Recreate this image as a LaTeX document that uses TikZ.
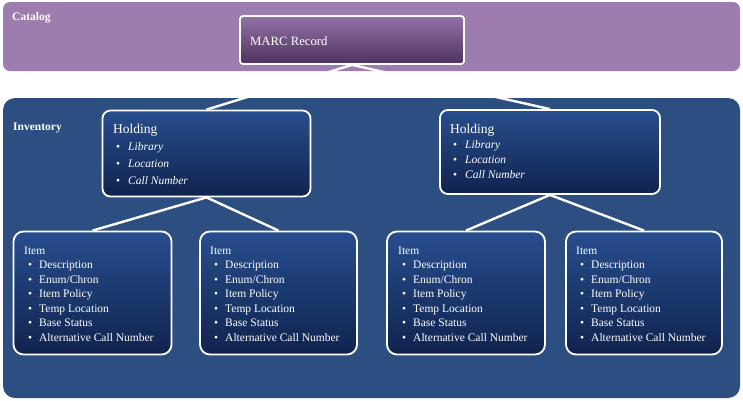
\documentclass[tikz,border=0pt]{standalone}
\usepackage{fontspec}
\setmainfont{Liberation Serif}
\definecolor{catbg}{RGB}{157,124,176}
\definecolor{invbg}{RGB}{45,78,128}
\definecolor{marctop}{RGB}{146,114,166}
\definecolor{marcbot}{RGB}{78,50,94}
\definecolor{boxtop}{RGB}{40,78,142}
\definecolor{boxbot}{RGB}{16,35,78}
\pgfdeclarelayer{bg}
\pgfdeclarelayer{lines}
\pgfsetlayers{bg,lines,main}
\begin{document}
\begin{tikzpicture}[x=1pt,y=-1pt,
  panel/.style={rounded corners=7pt, inner sep=0pt, draw=none},
  hbox/.style={rounded corners=8pt, draw=white, line width=1.8pt, inner sep=0pt, top color=boxtop, bottom color=boxbot},
  ibox/.style={rounded corners=10pt, draw=white, line width=1.8pt, inner sep=0pt, top color=boxtop, bottom color=boxbot},
  mbox/.style={rounded corners=3pt, draw=white, line width=1.8pt, inner sep=0pt, top color=marctop, bottom color=marcbot},
  conn/.style={draw=white, line width=2.4pt},
  lbl/.style={text=white, inner sep=0pt, font=\bfseries\fontsize{11.5}{13}\selectfont},
  itxt/.style={text=white, inner sep=0pt, anchor=north west, align=left, font=\fontsize{11.5}{14.5}\selectfont},
  htxt/.style={text=white, inner sep=0pt, anchor=north west, align=left},
]
\newcommand{\bul}[1]{\hspace*{4pt}\makebox[11pt][l]{\textbullet}#1}
\newcommand{\hbul}[1]{\hspace*{3pt}\makebox[12pt][l]{\textbullet}\textit{#1}}
\useasboundingbox (0,0) rectangle (743,400);
\begin{pgfonlayer}{bg}
\node[panel, fill=catbg, minimum width=737pt, minimum height=69pt] (catalog) at (371.5,36.5) {};
\node[panel, fill=invbg, rounded corners=12pt, minimum width=737pt, minimum height=300pt] (inventory) at (371.5,248) {};
\end{pgfonlayer}
\node[lbl, anchor=base west] (catlbl) at (12,20) {Catalog};
\node[lbl, anchor=base west] (invlbl) at (13,130) {Inventory};

\node[mbox, minimum width=224pt, minimum height=48pt] (marc) at (352,40) {};
\node[text=white, inner sep=0pt, anchor=base west, font=\fontsize{12.7}{15}\selectfont] (marctxt) at (250,45.5) {MARC Record};

\node[hbox, minimum width=208pt, minimum height=86pt] (h1) at (206.5,153.5) {};
\node[hbox, minimum width=220pt, minimum height=84pt] (h2) at (550,152) {};

\node[ibox, minimum width=158pt, minimum height=123pt] (i1) at (92.5,293) {};
\node[ibox, minimum width=157pt, minimum height=123pt] (i2) at (278.5,293) {};
\node[ibox, minimum width=158pt, minimum height=123pt] (i3) at (466,293) {};
\node[ibox, minimum width=156pt, minimum height=123pt] (i4) at (644,293) {};

\begin{pgfonlayer}{lines}
\draw[conn] (marc.south) -- (h1.north);
\draw[conn] (marc.south) -- (h2.north);
\draw[conn] (h1.south) -- (i1.north);
\draw[conn] (h1.south) -- (i2.north);
\draw[conn] (h2.south) -- (i3.north);
\draw[conn] (h2.south) -- (i4.north);
\end{pgfonlayer}

\node[htxt, font=\fontsize{11.5}{17}\selectfont] (h1txt) at (113,123.5) {{\fontsize{13.5}{17}\selectfont Holding}\\ \hbul{Library}\\ \hbul{Location}\\ \hbul{Call Number}};
\node[htxt, font=\fontsize{11.5}{15}\selectfont] (h2txt) at (450,123.5) {{\fontsize{13.5}{15}\selectfont Holding}\\ \hbul{Library}\\ \hbul{Location}\\ \hbul{Call Number}};

\node[itxt] (i1txt) at (24,246.5) {Item\\ \bul{Description}\\ \bul{Enum/Chron}\\ \bul{Item Policy}\\ \bul{Temp Location}\\ \bul{Base Status}\\ \bul{Alternative Call Number}};
\node[itxt] (i2txt) at (210,246.5) {Item\\ \bul{Description}\\ \bul{Enum/Chron}\\ \bul{Item Policy}\\ \bul{Temp Location}\\ \bul{Base Status}\\ \bul{Alternative Call Number}};
\node[itxt] (i3txt) at (398,246.5) {Item\\ \bul{Description}\\ \bul{Enum/Chron}\\ \bul{Item Policy}\\ \bul{Temp Location}\\ \bul{Base Status}\\ \bul{Alternative Call Number}};
\node[itxt] (i4txt) at (576,246.5) {Item\\ \bul{Description}\\ \bul{Enum/Chron}\\ \bul{Item Policy}\\ \bul{Temp Location}\\ \bul{Base Status}\\ \bul{Alternative Call Number}};
\end{tikzpicture}
\end{document}
